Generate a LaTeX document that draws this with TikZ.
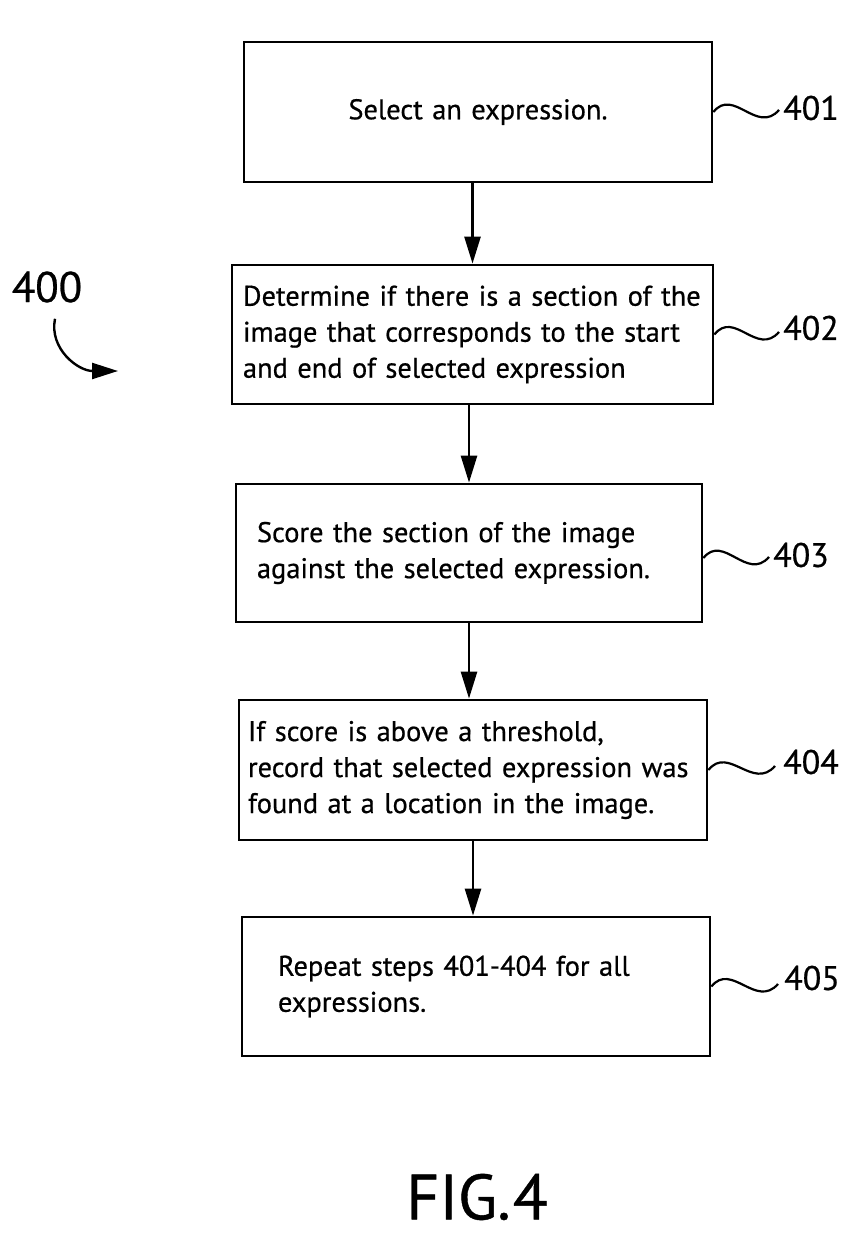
\documentclass[tikz,border=0pt]{standalone}
\usepackage{fontspec}
\setmainfont{PT Sans}[FakeBold=0.6]
\usetikzlibrary{arrows.meta}
\begin{document}
\begin{tikzpicture}[x=1pt,y=-1pt,
  stepbox/.style={draw, line width=2.8pt, inner ysep=0pt, align=left,
    font=\fontsize{28.4}{36}\selectfont},
  flow/.style={line width=2.6pt, -{Triangle[length=27pt,width=16pt]}},
  squig/.style={line width=2.2pt},
  reflabel/.style={inner sep=0pt, anchor=west, font=\fontsize{34}{40}\selectfont}]
\useasboundingbox (0,0) rectangle (857,1238);

\node[stepbox, align=center, minimum width=468pt, minimum height=140pt, text width=448pt, inner xsep=10pt] (b1) at (478,112) {Select an expression.};
\node[stepbox, minimum width=481pt, minimum height=139pt, text width=459pt, inner xsep=11pt] (b2) at (472.5,334.5)
  {\mbox{Determine if there is a section of the}\\\mbox{image that corresponds to the start}\\\mbox{and end of selected expression}};
\node[stepbox, minimum width=466pt, minimum height=138pt, text width=424pt, inner xsep=21pt] (b3) at (469,553)
  {\mbox{Score the section of the image}\\\mbox{against the selected expression.}};
\node[stepbox, minimum width=468pt, minimum height=140pt, text width=450pt, inner xsep=9pt] (b4) at (473,770)
  {\mbox{If score is above a threshold,}\\\mbox{record that selected expression was}\\\mbox{found at a location in the image.}};
\node[stepbox, minimum width=468pt, minimum height=139pt, text width=396pt, inner xsep=36pt] (b5) at (476,986.5)
  {\mbox{Repeat steps 401-404 for all}\\\mbox{expressions.}};

\draw[flow] (b1.south -| b2.north) -- (b2.north);
\draw[flow] (b2.south -| b3.north) -- (b3.north);
\draw[flow] (b3.south) -- (b3.south |- b4.north);
\draw[flow] (b4.south) -- (b4.south |- b5.north);

\node[reflabel] (l401) at (783,108) {401};
\node[reflabel] (l402) at (783,328) {402};
\node[reflabel] (l403) at (773,555) {403};
\node[reflabel] (l404) at (783,762) {404};
\node[reflabel] (l405) at (784,978) {405};

\draw[squig] (b1.east) .. controls +(20,-25) and +(-22,25) .. ([xshift=-4pt,yshift=-2pt]l401.west);
\draw[squig] (b2.east) .. controls +(20,-25) and +(-22,25) .. ([xshift=-4pt,yshift=-4pt]l402.west);
\draw[squig] ([yshift=-5pt]b3.east) .. controls +(20,-25) and +(-22,25) .. ([xshift=-4pt,yshift=-2pt]l403.west);
\draw[squig] (b4.east) .. controls +(20,-25) and +(-22,25) .. ([xshift=-8pt,yshift=-4pt]l404.west);
\draw[squig] (b5.east) .. controls +(20,-25) and +(-22,25) .. ([xshift=-6pt,yshift=-6pt]l405.west);

\node[inner sep=0pt, font=\fontsize{43}{50}\selectfont] (l400) at (47,287) {400};
\coordinate (t400) at (118,371);
\draw[line width=2.4pt, -{Triangle[length=26pt,width=16pt]}] ([xshift=8pt,yshift=-16pt]l400.south) .. controls +(-6,30) and +(-40,0) .. (t400);

\node[inner sep=0pt, font=\fontsize{64}{70}\selectfont] (fig) at (477,1197) {FIG.\kern2pt4};
\end{tikzpicture}
\end{document}
